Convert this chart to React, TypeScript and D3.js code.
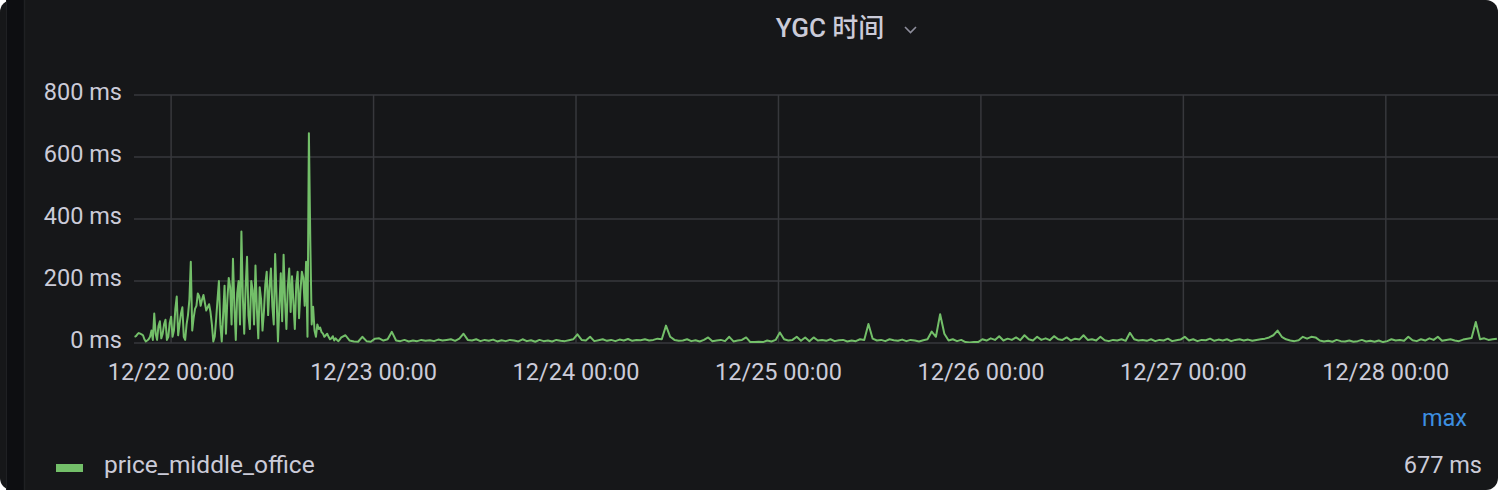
import React from "react";
import * as d3 from "d3";

// ---- data ----
const title = "YGC 时间";
const seriesName = "price_middle_office";
const legendHeader = "max";
const legendValue = "677 ms";
const yTickValues = [0, 200, 400, 600, 800];
const domainStart = new Date(2023, 11, 21, 19, 36);
const domainEnd = new Date(2023, 11, 28, 13, 18);

// busy period: 10-minute samples starting 12/21 19:40
const busyStart = new Date(2023, 11, 21, 19, 40);
const busyStepMin = 10;
const busyValues = [
  20, 22, 28, 32, 30, 28, 25, 12, 5, 8,
  12, 20, 40, 10, 95, 30, 10, 55, 70, 15,
  30, 60, 75, 10, 20, 65, 85, 20, 40, 110,
  150, 25, 60, 95, 115, 20, 10, 60, 90, 140,
  262, 40, 80, 110, 120, 160, 150, 120, 140, 155,
  130, 105, 115, 125, 100, 60, 5, 20, 75, 140,
  200, 60, 5, 90, 185, 30, 140, 210, 180, 60,
  272, 120, 10, 160, 200, 60, 360, 150, 30, 180,
  278, 90, 45, 200, 170, 60, 250, 110, 15, 180,
  140, 40, 100, 190, 230, 90, 180, 240, 120, 60,
  287, 150, 5, 120, 225, 70, 285, 140, 45, 180,
  240, 100, 215, 130, 45, 190, 230, 80, 170, 230,
  210, 120, 262, 20, 677, 330, 60, 117, 40, 20,
  60, 45, 50, 35, 30, 20, 25, 30, 20, 12,
  15, 22, 8, 15, 10, 6, 12, 18,
];

// quiet period: 30-minute samples starting 12/22 20:40
const quietStart = new Date(2023, 11, 22, 20, 40);
const quietStepMin = 30;
const quietValues = [
  25, 8, 5, 4, 20, 6, 4, 14, 15, 8,
  12, 36, 8, 6, 10, 5, 8, 6, 10, 7,
  9, 6, 11, 8, 10, 12, 7, 14, 30, 10,
  8, 12, 6, 10, 7, 11, 5, 9, 6, 10,
  8, 5, 12, 6, 9, 4, 10, 6, 8, 5,
  10, 7, 6, 9, 12, 28, 10, 8, 20, 6,
  9, 12, 7, 10, 6, 11, 8, 13, 7, 10,
  9, 12, 8, 10, 14, 12, 56, 20, 10, 7,
  8, 12, 6, 9, 5, 10, 18, 6, 8, 10,
  6, 20, 5, 8, 10, 18, 3, 3, 4, 3,
  8, 5, 10, 34, 12, 8, 10, 20, 7, 18,
  6, 18, 8, 10, 7, 12, 6, 9, 10, 5,
  8, 6, 12, 10, 61, 14, 8, 10, 6, 12,
  9, 7, 11, 6, 10, 8, 5, 9, 12, 37,
  20, 93, 30, 8, 12, 6, 10, 3, 2, 3,
  3, 12, 8, 15, 10, 22, 8, 14, 10, 18,
  9, 25, 12, 8, 20, 10, 15, 9, 22, 12,
  10, 18, 8, 14, 11, 25, 10, 12, 8, 20,
  9, 6, 10, 8, 12, 7, 33, 12, 8, 10,
  7, 12, 6, 10, 8, 14, 6, 9, 11, 20,
  8, 12, 6, 10, 9, 14, 7, 11, 8, 12,
  6, 10, 12, 8, 11, 7, 10, 12, 14, 18,
  25, 40, 20, 12, 8, 6, 9, 20, 14, 20,
  18, 8, 5, 7, 4, 10, 6, 5, 8, 4,
  6, 10, 5, 7, 4, 8, 3, 6, 12, 8,
  10, 7, 20, 9, 6, 12, 8, 15, 10, 20,
  7, 10, 12, 8, 6, 11, 14, 16, 68, 12,
  15, 10, 12, 14,
];

type Pt = { t: Date; v: number };
const points: Pt[] = [
  ...busyValues.map((v, i) => ({ t: d3.timeMinute.offset(busyStart, i * busyStepMin), v })),
  ...quietValues.map((v, i) => ({ t: d3.timeMinute.offset(quietStart, i * quietStepMin), v })),
];

// ---- layout ----
const W = 1498;
const H = 490;
const plot = { left: 134, right: 1498, top: 95, bottom: 343 };
const FONT = "Roboto, 'Noto Sans CJK SC', sans-serif";
const TEXT = "#cbcbd8";
const GRID = "#37383c";
const GREEN = "#73bf69";

export default function App() {
  const x = d3.scaleTime().domain([domainStart, domainEnd]).range([plot.left, plot.right]);
  const y = d3.scaleLinear().domain([0, 800]).range([plot.bottom, plot.top]);
  const xTicks = x.ticks(d3.timeDay.every(1)!);
  const fmt = d3.timeFormat("%m/%d %H:%M");
  const line = d3
    .line<Pt>()
    .x((d) => x(d.t))
    .y((d) => y(d.v));

  return (
    <svg
      width={W}
      height={H}
      style={{ position: "absolute", left: 0, top: 0, display: "block" }}
      fontFamily={FONT}
    >
      <rect x={0} y={0} width={W} height={H} fill="#ffffff" />
      <rect x={0} y={0} width={W} height={H} rx={12} ry={12} fill="#161719" />
      <rect x={7} y={0} width={17} height={H} fill="#0d0e11" />
      <line x1={6.5} x2={6.5} y1={0} y2={H} stroke="#1f2023" />
      <line x1={24.5} x2={24.5} y1={0} y2={H} stroke="#1f2023" strokeWidth={1.5} />

      {/* title */}
      <text x={830} y={37} textAnchor="middle" fill={TEXT} fontSize={26} fontWeight={500}>
        {title}
      </text>
      <path d="M905,27 L910.5,32.5 L916,27" fill="none" stroke="#8e8e9c" strokeWidth={1.6} />

      {/* grid */}
      {yTickValues.map((v) => (
        <line key={"gy" + v} x1={plot.left} x2={plot.right} y1={y(v)} y2={y(v)} stroke={GRID} strokeWidth={1.5} />
      ))}
      {xTicks.map((t) => (
        <line key={"gx" + t.getTime()} x1={x(t)} x2={x(t)} y1={plot.top} y2={plot.bottom} stroke={GRID} strokeWidth={1.5} />
      ))}

      {/* y labels */}
      {yTickValues.map((v) => (
        <text key={"ly" + v} x={122} y={y(v) + 5} textAnchor="end" fill={TEXT} fontSize={23.5}>
          {`${v} ms`}
        </text>
      ))}
      {/* x labels */}
      {xTicks.map((t) => (
        <text key={"lx" + t.getTime()} x={x(t)} y={380} textAnchor="middle" fill={TEXT} fontSize={23.5}>
          {fmt(t)}
        </text>
      ))}

      {/* series */}
      <defs>
        <clipPath id="plotclip">
          <rect x={plot.left} y={plot.top - 10} width={plot.right - plot.left} height={plot.bottom - plot.top + 10} />
        </clipPath>
      </defs>
      <path d={line(points) || ""} fill="none" stroke={GREEN} strokeWidth={2} strokeLinejoin="round" clipPath="url(#plotclip)" />

      {/* legend */}
      <text x={1467} y={426} textAnchor="end" fill="#3d8fe0" fontSize={23.5}>
        {legendHeader}
      </text>
      <rect x={56} y={464} width={27} height={8} fill={GREEN} />
      <text x={104} y={473} fill={TEXT} fontSize={24.5}>
        {seriesName}
      </text>
      <text x={1482} y={473} textAnchor="end" fill={TEXT} fontSize={23.5}>
        {legendValue}
      </text>
    </svg>
  );
}
